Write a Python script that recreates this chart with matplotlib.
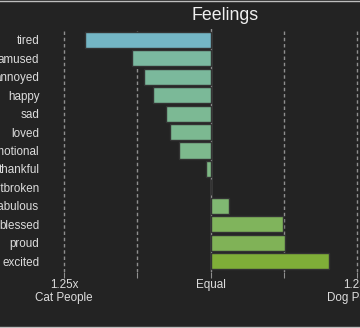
import matplotlib.pyplot as plt
from matplotlib.lines import Line2D

feelings = ["tired", "amused", "annoyed", "happy", "sad", "loved", "emotional",
            "thankful", "heartbroken", "fabulous", "blessed", "proud", "excited"]
# log ratio: negative = cat people, positive = dog people (0.25 ~ 1.25x)
ratios = [-0.214, -0.134, -0.114, -0.099, -0.076, -0.070, -0.054,
          -0.008, 0.001, 0.031, 0.123, 0.126, 0.202]
colors = ["#74b6c5", "#7bb9a0", "#7bb99c", "#7bb998", "#7cb994", "#7cb991", "#7db98d",
          "#7eb985", "#7eb87c", "#80b872", "#80b45c", "#80b257", "#7fae38"]
tick_pos = [-0.25, -0.125, 0, 0.125, 0.25]
tick_labels = ["1.25x\nCat People", "", "Equal", "", "1.25x\nDog People"]

bg = "#232323"
W, H = 360, 328
fig = plt.figure(figsize=(W / 100, H / 100), dpi=100, facecolor=bg)
plt.rcParams['font.family'] = ['Liberation Sans', 'DejaVu Sans']

# axes in pixel coords: left 45, right beyond the figure, top 29.3, bottom 271.7
left_px, right_px, top_px, bot_px = 45, 402, 29.3, 271.7
ax = fig.add_axes([left_px / W, 1 - bot_px / H, (right_px - left_px) / W, (bot_px - top_px) / H])
ax.set_facecolor(bg)

upp = 0.25 / 146.7  # units per pixel
zero_px = 210.7
ax.set_xlim((left_px - zero_px) * upp, (right_px - zero_px) * upp)
ax.set_ylim(len(feelings) - 1 + 0.58, -0.58)

for x in tick_pos:
    if x == 0:
        ax.axvline(x, color="#8f8f8f", lw=1, zorder=1)
    else:
        ax.axvline(x, color="#8f8f8f", lw=1, ls=(0, (2.5, 2)), zorder=1)

ax.barh(range(len(feelings)), ratios, height=0.87, color=colors,
        edgecolor="#333333", linewidth=1, zorder=2)

ax.set_yticks(range(len(feelings)))
ax.set_yticklabels(feelings, fontsize=8.4, color="#dcdcdc")
ax.set_xticks(tick_pos)
ax.set_xticklabels(tick_labels, fontsize=8.4, color="#dcdcdc", linespacing=1.1)
ax.tick_params(axis="y", length=0, pad=4)
ax.tick_params(axis="x", length=4, color="#8f8f8f", pad=1)
for s in ax.spines.values():
    s.set_visible(False)

fig.text(225 / W, 1 - 15 / H, "Feelings", ha="center", va="center",
         fontsize=12.8, color="#f0f0f0")

# thin light frame lines at top and bottom of the picture
fig.add_artist(Line2D([0, 1], [1 - 0.5 / H, 1 - 0.5 / H], color="#bdbdbd", lw=1))
fig.add_artist(Line2D([0, 1], [1.5 / H, 1.5 / H], color="#bdbdbd", lw=1))

fig.savefig("out.png", dpi=100, facecolor=bg)
